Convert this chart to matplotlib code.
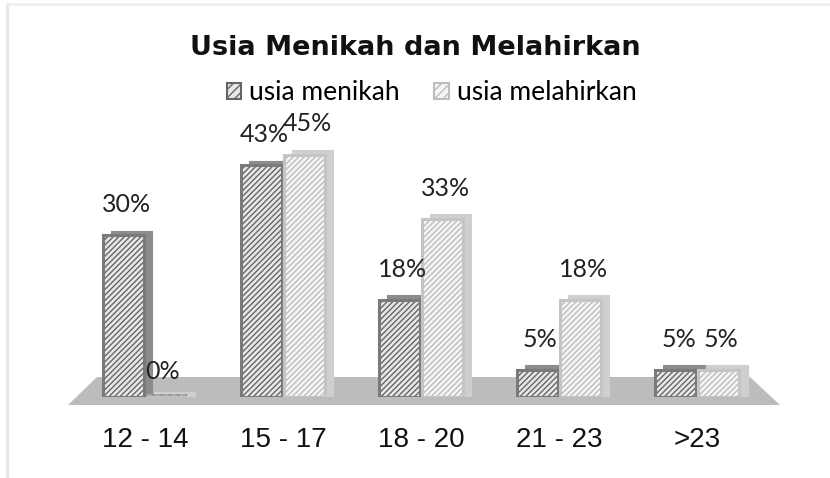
import matplotlib
matplotlib.use("Agg")
import matplotlib.pyplot as plt
from matplotlib.patches import Polygon, Patch
import numpy as np

categories = ["12 - 14", "15 - 17", "18 - 20", "21 - 23", ">23"]
series_names = ["usia menikah", "usia melahirkan"]
menikah = [30, 43, 18, 5, 5]
melahirkan = [0, 45, 33, 18, 5]
title = "Usia Menikah dan Melahirkan"

plt.rcParams['hatch.linewidth'] = 1.0
W, H = 830, 478
fig = plt.figure(figsize=(W / 100, H / 100), dpi=100)

def fx(px):
    return px / W

def fy(py):
    return 1 - py / H

# faint outer frame
fig.add_artist(plt.Line2D([fx(7), fx(7)], [fy(4), fy(478)], color="#e6e6e6", lw=2))
fig.add_artist(plt.Line2D([fx(7), fx(830)], [fy(4), fy(4)], color="#eeeeee", lw=2))

# floor
floor = Polygon([(fx(68), fy(405)), (fx(780), fy(405)), (fx(750), fy(377)), (fx(97), fy(377))],
                closed=True, transform=fig.transFigure, facecolor="#bcbcbc",
                edgecolor="none", zorder=0)
fig.add_artist(floor)

ax = fig.add_axes([fx(62), fy(397), fx(780 - 62), (397 - 117) / H])
ax.patch.set_alpha(0)
x = np.arange(len(categories))
bw = 0.30
off = 0.155
depth_dx = 0.06
depth_dy = 0.9

colors = [("#e8e8e8", "#666666", "#7a7a7a", "#8c8c8c"),
          ("#f5f5f5", "#bdbdbd", "#c4c4c4", "#cfcfcf")]
# (face, hatch colour, edge, depth colour)

for i, (vals, sgn) in enumerate([(menikah, -1), (melahirkan, 1)]):
    face, hcol, ecol, dcol = colors[i]
    xs = x + sgn * off
    vals_arr = np.array(vals, dtype=float)
    # depth (side/top faces)
    ax.bar(xs + depth_dx, vals_arr + depth_dy, width=bw, bottom=0,
           color=dcol, edgecolor=dcol, hatch="....", lw=0.8, zorder=2 + i * 0.1)
    # front faces
    ax.bar(xs, vals_arr, width=bw, color=face, edgecolor=hcol,
           hatch="//////", lw=0, zorder=3 + i * 0.1)
    ax.bar(xs, vals_arr, width=bw, fill=False, edgecolor=ecol, lw=2.2,
           zorder=3.05 + i * 0.1)
    for xi, v in zip(xs, vals):
        if v == 0:
            ax.bar(xi, 0.6, width=bw, color="#aaaaaa", edgecolor="#888888",
                   hatch="\\\\\\\\", lw=0, zorder=2.5)
            ax.annotate(f"{v}%", (xi - 0.03, v), xytext=(0, 10),
                        textcoords="offset points", ha="center", va="bottom",
                        fontsize=18, family="Lato", color="#222222", zorder=5)
        else:
            ax.annotate(f"{v}%", (xi + 0.02, v), xytext=(0, 14),
                        textcoords="offset points", ha="center", va="bottom",
                        fontsize=18, family="Lato", color="#222222", zorder=5)

ax.set_xlim(-0.6, 4.6)
ax.set_ylim(0, 52)
ax.axis("off")

for xi, c in zip(x, categories):
    ax.text(xi, -8.0, c, ha="center", va="center", fontsize=20,
            family="Liberation Sans", color="#111111")

fig.text(0.5, fy(48), title, ha="center", va="center", fontsize=19.5,
         fontweight="bold", family="DejaVu Sans", color="#111111")

handles = [Patch(facecolor=colors[0][0], edgecolor=colors[0][1], hatch="////", lw=1.5),
           Patch(facecolor=colors[1][0], edgecolor=colors[1][1], hatch="////", lw=1.5)]
fig.legend(handles, series_names, loc="center", bbox_to_anchor=(0.52, fy(93)),
           ncol=2, frameon=False, prop={"family": "Lato", "size": 19},
           handlelength=0.55, handleheight=0.55, handletextpad=0.3, columnspacing=1.3)

fig.savefig("out.png", dpi=100)
